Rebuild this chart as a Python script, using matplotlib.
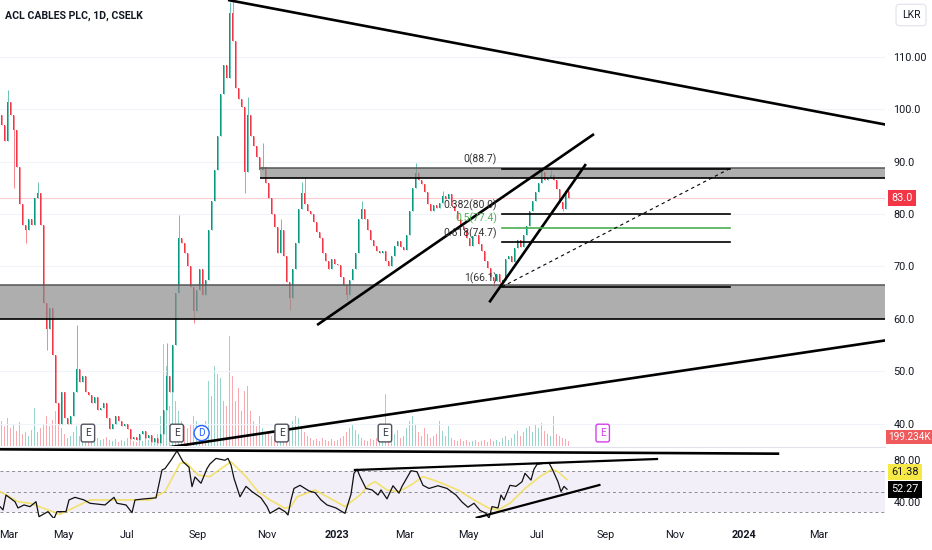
import matplotlib
matplotlib.use("Agg")
import matplotlib.pyplot as plt
import matplotlib.patches as patches
import matplotlib.transforms as mtransforms
from matplotlib import font_manager
from matplotlib.lines import Line2D

# ---------------- data ----------------
# daily candles condensed to one bar every ~2 sessions, closes in LKR
first_open = 99.0
closes = [
    97, 94, 101.5, 99, 96, 89, 82, 78, 77, 79,
    78, 83, 84, 78, 63, 58, 62, 53, 44, 40,
    46, 41, 40, 41.5, 46, 50.5, 48, 49, 46, 45.5,
    44, 45, 42.5, 43, 44, 41, 39, 40, 41.5, 40.5,
    39.5, 40, 39, 37, 37.5, 36.8, 38, 38.5, 37.2, 37.8,
    36.5, 37.2, 36.2, 38, 42.5, 49, 46, 55, 65, 75.5,
    74.5, 72.5, 70, 66, 61.5, 65.5, 69.5, 64.5, 67.5, 77,
    82.5, 88.5, 95, 103, 108.5, 106, 118.5, 113, 104, 102,
    100.5, 88, 99, 95, 93, 91, 88.5, 89, 86, 83,
    80, 77.5, 72.5, 77, 72, 67, 64, 69.5, 74.5, 81,
    84, 82, 80.5, 80, 78.5, 76.5, 75.5, 72.5, 71, 69.5,
    71.5, 70.5, 70.2, 68, 66.5, 64.5, 67.5, 69.5, 72.5, 79,
    81, 79, 77, 75, 74, 73, 72.5, 73, 71, 70,
    72, 74, 74.8, 73.8, 73.2, 76, 80.5, 85, 87.8, 86.5,
    85.8, 84.2, 82, 80.6, 81.8, 81.2, 82.2, 83.5, 82.8, 83.8,
    81.5, 80.5, 79, 77.8, 77, 75.5, 74, 75.8, 76, 74.2,
    73, 71, 69.8, 68, 67.2, 68.6, 67, 67.4, 71.5, 72,
    70.8, 73.5, 75, 73.8, 76, 77.8, 80.5, 82.5, 84.2, 86,
    88, 86.5, 86.8, 87.5, 86.6, 84.8, 82.4, 81, 84.5, 83.0,
]
# visible long wicks (bar -> price)
wick_highs = {2: 103.7, 12: 86.2, 25: 58.9, 55: 55.4, 59: 79.8, 76: 120.5, 77: 120.9,
              82: 102.4, 87: 93.6, 93: 79.0, 100: 86.1, 101: 87.1, 120: 82.5,
              138: 89.8, 147: 84.5, 180: 88.9, 183: 88.5}
wick_lows = {4: 85.0, 8: 74.5, 15: 54.1, 64: 59.2, 81: 84.0, 96: 61.7, 115: 63.6,
             164: 66.0, 166: 66.1, 187: 80.5}

# volume in thousands
volumes = [
    1000, 800, 1120, 720, 880, 600, 960, 480, 560, 400,
    640, 1520, 560, 720, 880, 1200, 800, 1040, 1400, 880,
    720, 480, 320, 400, 560, 800, 400, 320, 360, 240,
    280, 200, 320, 240, 280, 360, 240, 200, 280, 160,
    240, 200, 320, 280, 200, 160, 240, 200, 320, 240,
    280, 200, 480, 1200, 4080, 3200, 1600, 3000, 1800, 1400,
    1000, 800, 720, 880, 1200, 1000, 800, 600, 1000, 2600,
    2000, 3200, 2880, 2720, 1800, 1600, 4400, 2800, 1800, 2320,
    1400, 2200, 2400, 1400, 1000, 800, 1200, 720, 480, 600,
    400, 560, 800, 480, 400, 720, 880, 1000, 1200, 1120,
    800, 560, 400, 320, 240, 280, 200, 320, 240, 200,
    280, 200, 240, 320, 400, 560, 720, 880, 640, 480,
    320, 240, 200, 280, 240, 320, 200, 240, 2080, 400,
    320, 480, 640, 320, 400, 720, 1000, 1200, 880, 560,
    400, 720, 480, 320, 400, 480, 1000, 600, 400, 800,
    320, 240, 200, 280, 200, 240, 160, 200, 240, 160,
    200, 240, 160, 280, 200, 240, 160, 320, 400, 240,
    320, 480, 600, 400, 560, 720, 800, 560, 880, 720,
    920, 600, 480, 400, 1200, 480, 400, 320, 280, 199.234,
]

# RSI(14) and its moving average, sampled at bar numbers
rsi_bar = [0, 1, 2, 5, 6, 8, 10, 12, 13, 16, 18, 19, 22, 23, 25, 28, 30, 35, 38, 39,
           42, 44, 45, 48, 52, 54, 55, 57, 59, 61, 63, 64, 65, 67, 69, 70, 72, 75, 76, 77,
           78, 80, 82, 84, 87, 89, 90, 93, 95, 96, 97, 98, 100, 103, 105, 107, 109, 112, 114, 115,
           117, 118, 119, 120, 122, 124, 126, 127, 129, 131, 133, 134, 137, 139, 141, 143, 146, 149, 152, 154,
           156, 158, 160, 162, 163, 164, 166, 167, 168, 170, 172, 174, 175, 177, 178, 179, 181, 183, 184, 185,
           186, 187, 188, 189]
rsi_val = [35.6, 32.4, 46.7, 40.3, 34.3, 37.2, 35.6, 40.3, 26, 30.8, 24, 30.8, 30.8, 42, 44.5, 42, 38.8, 37.2, 44.5, 38.8,
           37.2, 29.8, 42, 43, 44, 70.7, 72, 80, 89, 78.6, 73.3, 54.7, 64, 58, 72, 76.5, 81.8, 80, 81.8, 75.5,
           62.7, 45, 55, 50, 44, 35.6, 29.2, 34.3, 30.8, 27.6, 42, 53, 56, 50.6, 49, 42, 37.2, 34.3, 30.8, 29.2,
           47.5, 67.5, 71.4, 64.6, 53, 51.6, 46.7, 51.6, 43, 55.6, 48.5, 55, 70, 69, 56, 53, 55.6, 53, 46.7, 40,
           35, 38.8, 32, 29.2, 24.4, 35.6, 34.3, 46.7, 42, 56, 55, 59.4, 67.5, 61, 71.4, 76, 77, 77.5, 72, 65.8,
           59.4, 50, 55, 52.27]
ma_bar = [0, 6, 10, 16, 20, 30, 50, 55, 60, 62, 66, 70, 73, 77, 82, 86, 90, 95, 97, 99,
          105, 110, 115, 120, 123, 125, 129, 133, 137, 141, 146, 153, 158, 163, 166, 170, 175, 180, 184, 186, 189]
ma_val = [50, 40.3, 38.8, 32.4, 28.3, 42, 42, 50, 77, 77.7, 65.9, 64.3, 70.7, 78.6, 64.3, 50, 42, 34, 35.6, 45,
          51.5, 43.6, 35.6, 46.7, 56.3, 59.5, 51.5, 50, 56.3, 64.3, 59.5, 51, 42, 34, 32.4, 38.8, 53, 64.3, 71.4, 69, 61.38]

# time axis
month_labels = ['Mar', 'May', 'Jul', 'Sep', 'Nov', '2023', 'Mar', 'May', 'Jul', 'Sep', 'Nov', '2024', 'Mar']
month_pos = [3.0, 21.0, 42.3, 66.0, 89.0, 112.3, 135.0, 156.0, 179.0, 202.0, 225.0, 248.0, 273.0]
price_ticks = [40, 50, 60, 70, 80, 90, 100, 110]
price_labels = ['40.0', '50.0', '60.0', '70.0', '80.0', '90.0', '100.0', '110.00']

# user drawings (bar, price)
resistance = [(76.0, 120.89), (296.0, 97.01)]
support_long = [(56.7, 35.5), (296.0, 55.95)]
wedge_lower = [(105.7, 58.82), (198.0, 95.29)]
wedge_steep = [(163.1, 63.15), (195.3, 89.56)]
zone_upper = (86.7, 86.89, 88.80)   # start bar, bottom, top
zone_lower = (0.0, 60.0, 66.46)
fib_start, fib_end = 167.3, 243.3
fib_levels = [0, 0.382, 0.5, 0.618, 1]
fib_prices = [88.7, 80.0, 77.4, 74.7, 66.1]
rsi_top_long = [(0.0, 90.5), (259.3, 86.3)]
rsi_upper = [(118.3, 70.7), (219.0, 81.2)]
rsi_lower = [(158.9, 25.0), (199.8, 56.3)]
earnings_bars = [29.3, 58.9, 93.9, 128.3]
next_earnings_bar = 200.9
dividend_bar = 67.2

# ---------------- style ----------------
names = {f.name for f in font_manager.fontManager.ttflist}
narrow = 'Liberation Sans Narrow' if 'Liberation Sans Narrow' in names else 'Roboto'
plt.rcParams['font.family'] = [narrow, 'DejaVu Sans']

UP, DOWN = '#089981', '#f23645'
TXT = '#131722'
W, H = 932, 550


def rect(x0, y0, x1, y1):
    return [x0 / W, 1 - y1 / H, (x1 - x0) / W, (y1 - y0) / H]


fig = plt.figure(figsize=(W / 100, H / 100), dpi=100)
ax_vol = fig.add_axes(rect(0, 0, 885, 446))
ax = fig.add_axes(rect(0, 0, 885, 446))
ax_rsi = fig.add_axes(rect(0, 447, 885, 518))
ax.patch.set_alpha(0)

for a in (ax_vol, ax, ax_rsi):
    a.set_xlim(0, 295)
    for s in a.spines.values():
        s.set_visible(False)

# ---------------- candles + volume ----------------
opens = [first_open] + closes[:-1]
xs = [k + 0.5 for k in range(len(closes))]
colors = [UP if c >= o else DOWN for o, c in zip(opens, closes)]
bottoms = [min(o, c) for o, c in zip(opens, closes)]
heights = [max(abs(c - o), 0.25) for o, c in zip(opens, closes)]
highs = [wick_highs.get(k, max(o, c)) for k, (o, c) in enumerate(zip(opens, closes))]
lows = [wick_lows.get(k, min(o, c)) for k, (o, c) in enumerate(zip(opens, closes))]

ax_vol.bar(xs, volumes, width=0.55, color=colors, alpha=0.42, linewidth=0)
ax_vol.set_ylim(0, 17800)
ax_vol.axis('off')

ax.vlines(xs, lows, highs, colors=colors, linewidth=0.6, alpha=0.7, zorder=2)
ax.bar(xs, heights, bottom=bottoms, width=0.6, color=colors, linewidth=0, zorder=3)

ax.set_ylim(35.71, 120.89)
ax.yaxis.tick_right()
ax.set_yticks(price_ticks)
ax.set_yticklabels(price_labels)
ax.tick_params(axis='y', length=0, pad=6, labelsize=7.8, labelcolor=TXT)
ax.set_xticks(month_pos)
ax.tick_params(axis='x', length=0, labelbottom=False)
ax.grid(axis='y', color='#f0f3fa', linewidth=0.8, zorder=0)
ax.set_axisbelow(True)

# last price line
ax.axhline(closes[-1], color=DOWN, alpha=0.25, linewidth=0.8, zorder=1)

# ---------------- drawings on price pane ----------------
gray = '#8c8c8c'
ax.add_patch(patches.Rectangle((zone_upper[0], zone_upper[1]), 300 - zone_upper[0],
                               zone_upper[2] - zone_upper[1], facecolor=gray, alpha=0.7,
                               linewidth=0, zorder=4))
ax.add_patch(patches.Rectangle((zone_lower[0], zone_lower[1]), 300, zone_lower[2] - zone_lower[1],
                               facecolor=gray, alpha=0.7, linewidth=0, zorder=4))
ax.hlines([zone_upper[2], zone_lower[2]], [zone_upper[0], zone_lower[0]], 300,
          colors='#555555', linewidth=1.1, zorder=5)
ax.hlines([zone_upper[1], zone_lower[1]], [zone_upper[0], zone_lower[0]], 300,
          colors='black', linewidth=1.2, zorder=5)

for line in (resistance, support_long, wedge_lower, wedge_steep):
    (x0, y0), (x1, y1) = line
    ax.plot([x0, x1], [y0, y1], color='black', linewidth=1.9, solid_capstyle='butt', zorder=6)

fib_green = '#4caf50'
for lvl, p in zip(fib_levels, fib_prices):
    col = fib_green if lvl == 0.5 else 'black'
    ax.plot([fib_start, fib_end], [p, p], color=col, linewidth=1.2, zorder=6)
    ax.annotate(f'{lvl:g}({p:.1f})', xy=(fib_start, p), xytext=(-3.5, 6.5),
                textcoords='offset points', ha='right', va='center', fontsize=7.5,
                color=fib_green if lvl == 0.5 else '#333333', zorder=7)
ax.plot([fib_start, fib_end], [fib_prices[-1], fib_prices[0]], color='black',
        linewidth=0.8, dashes=(3, 3), zorder=6)

# event markers above the time axis
tr = mtransforms.blended_transform_factory(ax.transData, ax.transAxes)
for xb in earnings_bars:
    ax.text(xb, 0.029, 'E', transform=tr, ha='center', va='center', fontsize=7.3, color='#363a45',
            zorder=8, bbox=dict(boxstyle='round,pad=0.38,rounding_size=0.2', fc='white',
                                ec='#50535e', lw=1.0))
ax.text(next_earnings_bar, 0.029, 'E', transform=tr, ha='center', va='center', fontsize=7.3,
        color='#d63ef0', zorder=8, bbox=dict(boxstyle='round,pad=0.38,rounding_size=0.2',
                                             fc='white', ec='#d63ef0', lw=1.0))
ax.text(dividend_bar, 0.029, 'D', transform=tr, ha='center', va='center', fontsize=7.3,
        color='#2962ff', zorder=8, bbox=dict(boxstyle='circle,pad=0.25', fc='white',
                                             ec='#2962ff', lw=1.0))

# ---------------- RSI pane ----------------
ax_rsi.set_ylim(24.7, 92.7)
ax_rsi.axhspan(30, 70, color='#7e57c2', alpha=0.09, linewidth=0, zorder=0)
for lv in (30, 50, 70):
    ax_rsi.axhline(lv, color='#8a8d96', linewidth=0.7, dashes=(3, 3), zorder=1)
ax_rsi.plot(ma_bar, ma_val, color='#f2df55', linewidth=1.2, alpha=0.85, zorder=2)
ax_rsi.plot(rsi_bar, rsi_val, color='#111111', linewidth=0.9, zorder=3)
for line in (rsi_upper, rsi_lower):
    (x0, y0), (x1, y1) = line
    ax_rsi.plot([x0, x1], [y0, y1], color='black', linewidth=1.6, zorder=4)
(x0, y0), (x1, y1) = rsi_top_long
ax_rsi.plot([x0, x1], [y0, y1], color='black', linewidth=1.9, zorder=4, clip_on=False)

ax_rsi.yaxis.tick_right()
ax_rsi.set_yticks([40, 80])
ax_rsi.set_yticklabels(['40.00', '80.00'])
ax_rsi.tick_params(axis='y', length=0, pad=6, labelsize=7.8, labelcolor=TXT)
ax_rsi.set_xticks(month_pos)
ax_rsi.set_xticklabels(month_labels)
ax_rsi.tick_params(axis='x', length=0, pad=8.5, labelsize=7.8, labelcolor=TXT)
for lab in ax_rsi.get_xticklabels():
    if lab.get_text().isdigit():
        lab.set_fontweight('bold')

# ---------------- price scale tags ----------------
ty = mtransforms.blended_transform_factory(ax.transAxes, ax.transData)
ax.text(1.007, closes[-1], f'{closes[-1]:.1f}', transform=ty, ha='left', va='center',
        fontsize=7.8, color='white', bbox=dict(boxstyle='square,pad=0.28', fc=DOWN, ec='none'))
ax.text(1.0035, 0.02, f'{volumes[-1]:.3f}K', transform=ax.transAxes, ha='left', va='center',
        fontsize=7.2, color='white', bbox=dict(boxstyle='square,pad=0.22', fc='#ef5a5c', ec='none'))
tr2 = mtransforms.blended_transform_factory(ax_rsi.transAxes, ax_rsi.transData)
ax_rsi.text(1.007, 68.6, f'{ma_val[-1]:.2f}', transform=tr2, ha='left', va='center',
            fontsize=7.8, color=TXT, bbox=dict(boxstyle='square,pad=0.28', fc='#f7e945', ec='none'))
ax_rsi.text(1.007, 52.0, f'{rsi_val[-1]:.2f}', transform=tr2, ha='left', va='center',
            fontsize=7.8, color='white', bbox=dict(boxstyle='square,pad=0.28', fc='black', ec='none'))

# header + currency box
fig.text(5 / W, 1 - 16 / H, 'ACL CABLES PLC, 1D, CSELK', ha='left', va='center',
         fontsize=7.6, fontweight='bold', color=TXT)
fig.text(911 / W, 1 - 15 / H, 'LKR', ha='center', va='center', fontsize=7.5, color=TXT,
         bbox=dict(boxstyle='round,pad=0.55,rounding_size=0.3', fc='white', ec='#e0e3eb', lw=0.8))

fig.add_artist(Line2D([0, 885 / W], [1 - 446.5 / H] * 2, color='#e0e3eb', linewidth=0.8))

fig.savefig('out.png', dpi=100)
